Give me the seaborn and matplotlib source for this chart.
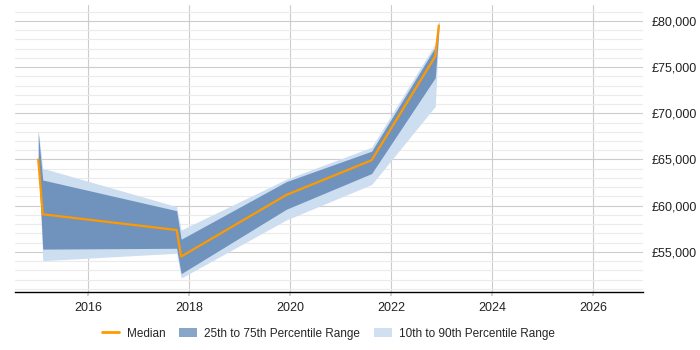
import matplotlib
matplotlib.use("Agg")
import matplotlib.pyplot as plt
from matplotlib.lines import Line2D
from matplotlib.patches import Patch
from matplotlib.ticker import FuncFormatter, MultipleLocator
import pandas as pd
import seaborn as sns

sns.set_theme(style="white")
plt.rcParams["font.family"] = ["Liberation Sans", "DejaVu Sans"]

# decimal years of each observation
years = [2015.01, 2015.10, 2017.75, 2017.84, 2019.92, 2021.61, 2022.87, 2022.94]
median = [65000, 59070, 57370, 54500, 61160, 64920, 76160, 79490]
p25 = [65000, 55300, 55390, 52640, 59610, 63480, 73850, 78900]
p75 = [68000, 62780, 59460, 56370, 62600, 65900, 77160, 79930]
p10 = [65000, 54050, 54850, 52170, 58450, 62290, 70750, 78600]
p90 = [68200, 64050, 59900, 57370, 62860, 66330, 77530, 80180]

df = pd.DataFrame({"year": years, "median": median, "p25": p25, "p75": p75, "p10": p10, "p90": p90})

light = "#cddef0"
dark = "#6f93bd"
orange = "#ff9900"

fig = plt.figure(figsize=(7, 3.5), dpi=100)
ax = fig.add_axes([0.0214, 0.166, 0.897, 0.82])

ax.fill_between(df.year, df.p10, df.p90, color=light, lw=0, zorder=2)
ax.fill_between(df.year, df.p25, df.p75, color=dark, lw=0, zorder=3)
sns.lineplot(data=df, x="year", y="median", color=orange, lw=1.6, ax=ax, zorder=4, estimator=None, sort=False)

ax.set_xlim(2014.55, 2026.98)
ax.set_ylim(50670, 81730)
ax.xaxis.set_major_locator(MultipleLocator(2))
ax.xaxis.set_major_formatter(FuncFormatter(lambda v, p: f"{v:.0f}"))
ax.yaxis.set_major_locator(MultipleLocator(5000))
ax.yaxis.set_minor_locator(MultipleLocator(1000))
ax.yaxis.set_major_formatter(FuncFormatter(lambda v, p: f"£{v:,.0f}"))
ax.yaxis.tick_right()

ax.grid(True, which="major", axis="both", color="#cccccc", lw=0.8, zorder=0)
ax.grid(True, which="minor", axis="y", color="#ebebeb", lw=0.8, zorder=0)
ax.set_axisbelow(True)

for s in ["left", "right", "top"]:
    ax.spines[s].set_visible(False)
ax.spines["bottom"].set_color("black")
ax.spines["bottom"].set_linewidth(1)

ax.tick_params(axis="x", which="major", bottom=True, length=3, color="#cccccc", labelsize=9, colors="#222222", pad=4)
ax.tick_params(axis="x", which="major", labelcolor="#222222")
ax.tick_params(axis="y", which="both", length=0, labelsize=9, colors="#222222", pad=6)
ax.set_xlabel("")
ax.set_ylabel("")

handles = [
    Line2D([0], [0], color=orange, lw=2),
    Patch(facecolor="#88a6c8", edgecolor="none"),
    Patch(facecolor="#d0e0f0", edgecolor="none"),
]
labels = ["Median", "25th to 75th Percentile Range", "10th to 90th Percentile Range"]
fig.legend(handles, labels, loc="center", bbox_to_anchor=(0.469, 0.047), ncol=3, frameon=False,
           fontsize=8.5, handlelength=1.5, handleheight=0.9, columnspacing=1.2, handletextpad=0.6)

fig.savefig("out.png", dpi=100)
